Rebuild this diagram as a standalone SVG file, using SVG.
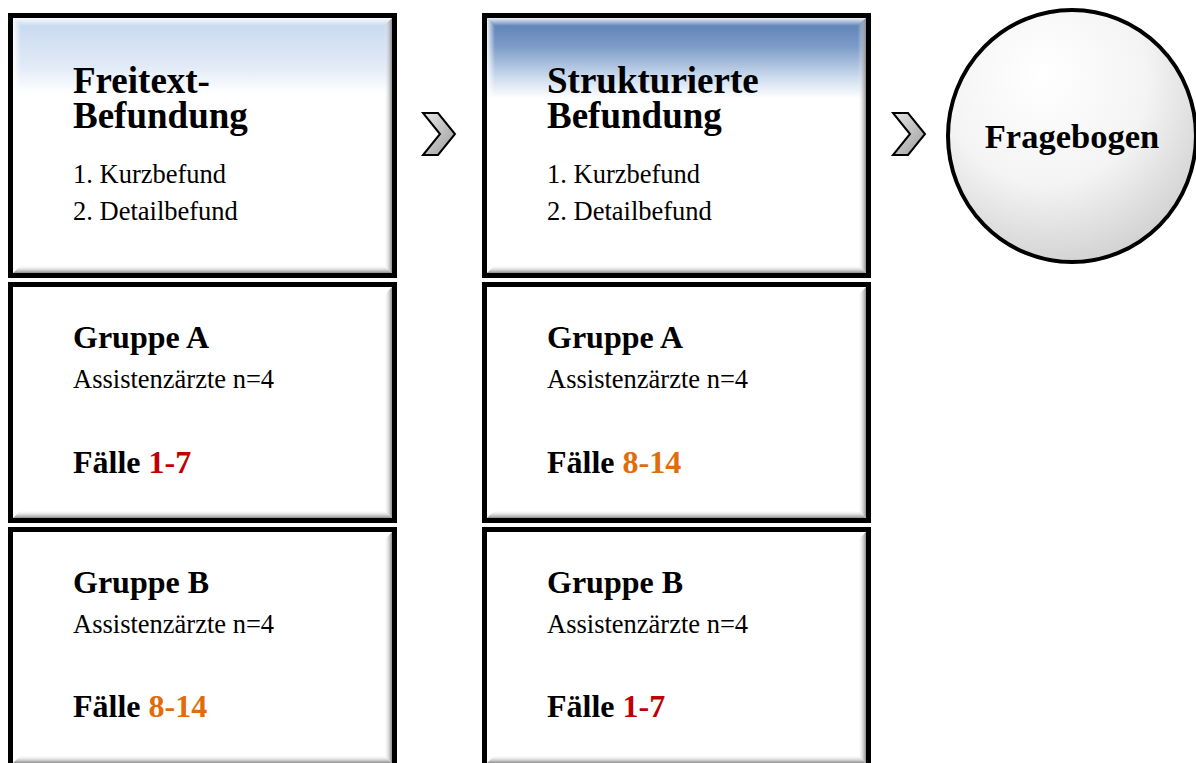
<svg xmlns="http://www.w3.org/2000/svg" width="1196" height="763" viewBox="0 0 1196 763">
  <defs>
    <linearGradient id="headLight" x1="0" y1="0" x2="0" y2="1">
      <stop offset="0" stop-color="#c3d6ee"/>
      <stop offset="0.2" stop-color="#e2ebf7"/>
      <stop offset="0.3" stop-color="#ffffff"/>
      <stop offset="1" stop-color="#ffffff"/>
    </linearGradient>
    <linearGradient id="headDark" x1="0" y1="0" x2="0" y2="1">
      <stop offset="0" stop-color="#557bb3"/>
      <stop offset="0.12" stop-color="#7c9bc8"/>
      <stop offset="0.24" stop-color="#cddcee"/>
      <stop offset="0.32" stop-color="#ffffff"/>
      <stop offset="1" stop-color="#ffffff"/>
    </linearGradient>
    <linearGradient id="bevelBottom" x1="0" y1="0" x2="0" y2="1">
      <stop offset="0" stop-color="#ffffff" stop-opacity="0"/>
      <stop offset="1" stop-color="#8c8c8c"/>
    </linearGradient>
    <linearGradient id="bevelRight" x1="0" y1="0" x2="1" y2="0">
      <stop offset="0" stop-color="#ffffff" stop-opacity="0"/>
      <stop offset="1" stop-color="#8c8c8c"/>
    </linearGradient>
    <linearGradient id="bevelTop" x1="0" y1="0" x2="0" y2="1">
      <stop offset="0" stop-color="#ffffff" stop-opacity="0.9"/>
      <stop offset="1" stop-color="#ffffff" stop-opacity="0"/>
    </linearGradient>
    <linearGradient id="bevelLeft" x1="0" y1="0" x2="1" y2="0">
      <stop offset="0" stop-color="#ffffff" stop-opacity="0.9"/>
      <stop offset="1" stop-color="#ffffff" stop-opacity="0"/>
    </linearGradient>
    <linearGradient id="chev" x1="0" y1="0" x2="1" y2="1">
      <stop offset="0" stop-color="#e6e6e6"/>
      <stop offset="1" stop-color="#9c9c9c"/>
    </linearGradient>
    <radialGradient id="ball" cx="0.4" cy="0.3" r="0.75" fx="0.38" fy="0.25">
      <stop offset="0" stop-color="#ffffff"/>
      <stop offset="0.55" stop-color="#f4f4f4"/>
      <stop offset="1" stop-color="#cfcfcf"/>
    </radialGradient>
    <path id="chevShape" d="M0,0 H15 L32,21 L15,42 H0 L17,21 Z"/>
  </defs>
  <style>
    .frame { fill: none; stroke: #000; stroke-width: 5; }
    .fill { fill: #fff; }
    .bb { fill: url(#bevelBottom); }
    .br { fill: url(#bevelRight); }
    .bt { fill: url(#bevelTop); }
    .bl { fill: url(#bevelLeft); }
    .title { font-family: "Liberation Serif", "Times New Roman", serif; font-weight: bold; font-size: 37px; fill: #000; }
    .head { font-family: "Liberation Serif", "Times New Roman", serif; font-weight: bold; font-size: 32px; fill: #000; }
    .ballText { font-family: "Liberation Serif", "Times New Roman", serif; font-weight: bold; font-size: 34.5px; fill: #000; }
    .body { font-family: "Liberation Serif", "Times New Roman", serif; font-size: 26.5px; fill: #000; }
    .red { fill: #c00000; }
    .orange { fill: #e36c0a; }
    .chevron { fill: url(#chev); stroke: #000; stroke-width: 2; stroke-linejoin: miter; }
  </style>

  <!-- Column 1: free-text reporting -->
  <g id="freitext">
    <rect x="10" y="15" width="385" height="261" fill="url(#headLight)"/>
    <path class="bt" d="M13,18 H392 L384,26 H21 Z"/>
    <path class="bl" d="M13,18 V273 L21,265 V26 Z"/>
    <path class="bb" d="M13,273 H392 L384,265 H21 Z"/>
    <path class="br" d="M392,18 V273 L384,265 V26 Z"/>
    <rect class="frame" x="10.5" y="15.5" width="384" height="260"/>
    <text class="title" x="73" y="93">Freitext-<tspan x="73" dy="35">Befundung</tspan></text>
    <text class="body" x="73" y="183">1. Kurzbefund</text>
    <text class="body" x="73" y="220">2. Detailbefund</text>
  </g>

  <g id="freitext-gruppe-a">
    <rect class="fill" x="10" y="284" width="385" height="237"/>
    <path class="bt" d="M13,287 H392 L384,295 H21 Z"/>
    <path class="bl" d="M13,287 V518 L21,510 V295 Z"/>
    <path class="bb" d="M13,518 H392 L384,510 H21 Z"/>
    <path class="br" d="M392,287 V518 L384,510 V295 Z"/>
    <rect class="frame" x="10.5" y="284.5" width="384" height="236"/>
    <text class="head" x="73" y="348">Gruppe A</text>
    <text class="body" x="73" y="388">Assistenzärzte n=4</text>
    <text class="head" x="73" y="473">Fälle <tspan class="red">1-7</tspan></text>
  </g>

  <g id="freitext-gruppe-b">
    <rect class="fill" x="10" y="529" width="385" height="245"/>
    <path class="bt" d="M13,532 H392 L384,540 H21 Z"/>
    <path class="bl" d="M13,532 V763 L21,755 V540 Z"/>
    <path class="bb" d="M13,763 H392 L384,755 H21 Z"/>
    <path class="br" d="M392,532 V763 L384,755 V540 Z"/>
    <rect class="frame" x="10.5" y="529.5" width="384" height="245"/>
    <text class="head" x="73" y="593">Gruppe B</text>
    <text class="body" x="73" y="633">Assistenzärzte n=4</text>
    <text class="head" x="73" y="717">Fälle <tspan class="orange">8-14</tspan></text>
  </g>

  <!-- Column 2: structured reporting -->
  <g id="strukturiert">
    <rect x="484" y="15" width="385" height="261" fill="url(#headDark)"/>
    <path class="bt" d="M487,18 H866 L858,26 H495 Z"/>
    <path class="bl" d="M487,18 V273 L495,265 V26 Z"/>
    <path class="bb" d="M487,273 H866 L858,265 H495 Z"/>
    <path class="br" d="M866,18 V273 L858,265 V26 Z"/>
    <rect class="frame" x="484.5" y="15.5" width="384" height="260"/>
    <text class="title" x="547" y="93">Strukturierte<tspan x="547" dy="35">Befundung</tspan></text>
    <text class="body" x="547" y="183">1. Kurzbefund</text>
    <text class="body" x="547" y="220">2. Detailbefund</text>
  </g>

  <g id="strukturiert-gruppe-a">
    <rect class="fill" x="484" y="284" width="385" height="237"/>
    <path class="bt" d="M487,287 H866 L858,295 H495 Z"/>
    <path class="bl" d="M487,287 V518 L495,510 V295 Z"/>
    <path class="bb" d="M487,518 H866 L858,510 H495 Z"/>
    <path class="br" d="M866,287 V518 L858,510 V295 Z"/>
    <rect class="frame" x="484.5" y="284.5" width="384" height="236"/>
    <text class="head" x="547" y="348">Gruppe A</text>
    <text class="body" x="547" y="388">Assistenzärzte n=4</text>
    <text class="head" x="547" y="473">Fälle <tspan class="orange">8-14</tspan></text>
  </g>

  <g id="strukturiert-gruppe-b">
    <rect class="fill" x="484" y="529" width="385" height="245"/>
    <path class="bt" d="M487,532 H866 L858,540 H495 Z"/>
    <path class="bl" d="M487,532 V763 L495,755 V540 Z"/>
    <path class="bb" d="M487,763 H866 L858,755 H495 Z"/>
    <path class="br" d="M866,532 V763 L858,755 V540 Z"/>
    <rect class="frame" x="484.5" y="529.5" width="384" height="245"/>
    <text class="head" x="547" y="593">Gruppe B</text>
    <text class="body" x="547" y="633">Assistenzärzte n=4</text>
    <text class="head" x="547" y="717">Fälle <tspan class="red">1-7</tspan></text>
  </g>

  <!-- Column 3: questionnaire -->
  <g id="fragebogen">
    <ellipse cx="1072" cy="136" rx="124" ry="126" fill="url(#ball)" stroke="#000" stroke-width="4"/>
    <text class="ballText" x="1072" y="148" text-anchor="middle">Fragebogen</text>
  </g>

  <!-- Step arrows between the columns -->
  <g id="connectors">
    <use href="#chevShape" class="chevron" transform="translate(423,113)"/>
    <use href="#chevShape" class="chevron" transform="translate(893,113)"/>
  </g>
</svg>
